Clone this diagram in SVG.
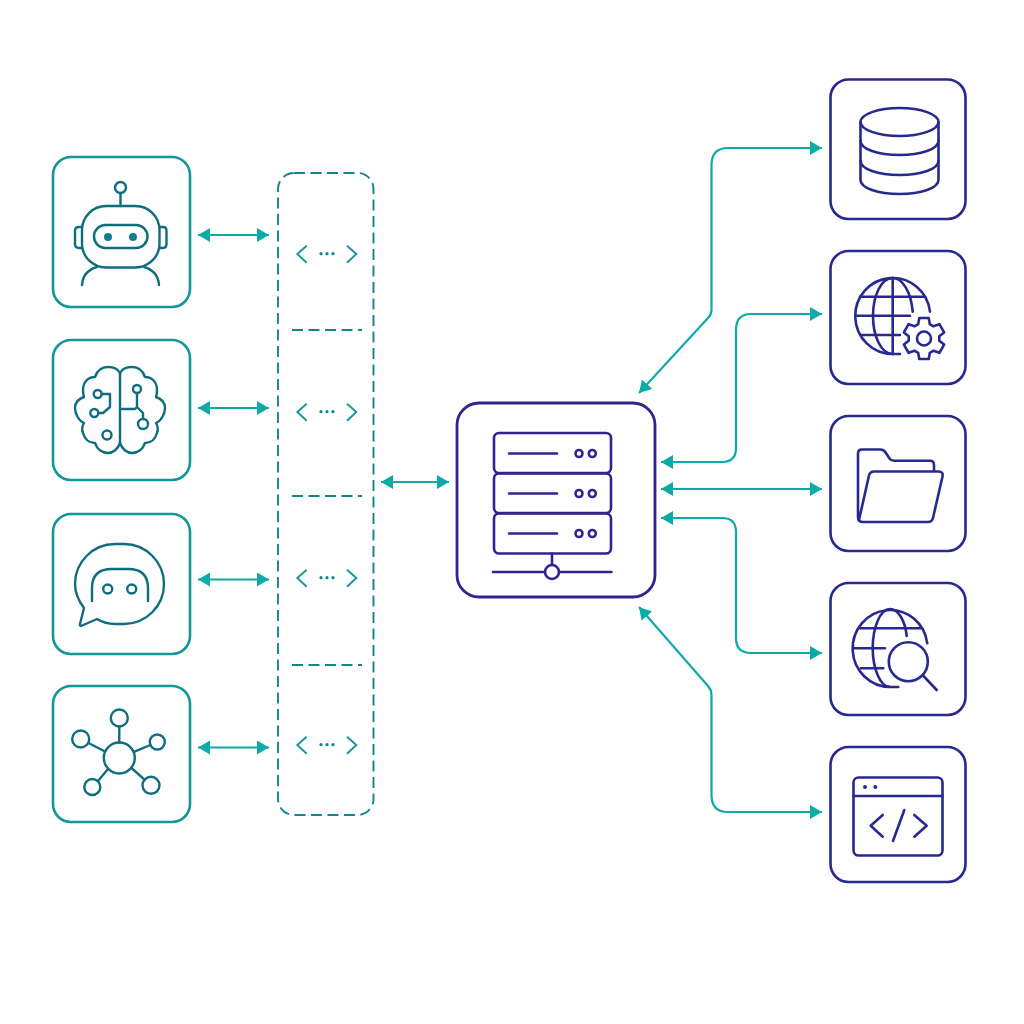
<svg xmlns="http://www.w3.org/2000/svg" width="1024" height="1024" viewBox="0 0 1024 1024">
<defs>
<marker id="arrow" viewBox="0 0 12 14" refX="12" refY="7" markerWidth="12" markerHeight="14" markerUnits="userSpaceOnUse" orient="auto-start-reverse"><path d="M0,0 L12,7 L0,14 Z" fill="#0eaaa6"/></marker>
</defs>
<style>
.tbox{fill:#fefefe;stroke:#12979b;stroke-width:2.6}
.nbox{fill:#fefefe;stroke:#28298f;stroke-width:2.6}
.ti{fill:none;stroke:#0f6e7e;stroke-width:2.4;stroke-linecap:round;stroke-linejoin:round}
.ni{fill:none;stroke:#28298f;stroke-width:2.6;stroke-linecap:round;stroke-linejoin:round}
.si{fill:none;stroke:#33238f;stroke-width:2.6;stroke-linecap:round;stroke-linejoin:round}
.conn{fill:none;stroke:#0eaaa6;stroke-width:2.2;marker-start:url(#arrow);marker-end:url(#arrow)}
.dash{fill:none;stroke:#12858c;stroke-width:1.9;stroke-dasharray:11 5.5}
.chev{fill:none;stroke:#12979b;stroke-width:1.9}
.dot{fill:#12858c}
</style>
<rect width="1024" height="1024" fill="#fefefe"/>

<g id="connectors">
<path class="conn" d="M198,235 H269"/>
<path class="conn" d="M198,408 H269"/>
<path class="conn" d="M198,579.500 H269"/>
<path class="conn" d="M198,747.500 H269"/>
<path class="conn" d="M381,482 H449"/>
<path class="conn" d="M639,393 L708,318 Q711.500,314.500 711.500,310 V165 Q711.500,148 728,148 H822"/>
<path class="conn" d="M661,462 H722 Q736,462 736,448 V330 Q736,314 751,314 H822"/>
<path class="conn" d="M661,489 H822"/>
<path class="conn" d="M661,518 H722 Q736,518 736,532 V638 Q736,653 751,653 H822"/>
<path class="conn" d="M639,607 L708,686 Q711.500,690 711.500,695 V795 Q711.500,812 728,812 H822"/>
</g>

<g id="gateway">
<rect x="278" y="173" width="95.500" height="642" rx="16" class="dash"/>
<path class="dash" d="M292,330 H362 M292,496 H362 M292,665 H362"/>
<g id="slot-1"><path class="chev" d="M306.700,245.700 L297.300,254 L306.700,262.700 M347,245.700 L356.300,254 L347,262.700"/><circle class="dot" cx="321" cy="253.700" r="1.600"/><circle class="dot" cx="327" cy="253.700" r="1.600"/><circle class="dot" cx="333" cy="253.700" r="1.600"/></g>
<g id="slot-2"><path class="chev" d="M306.700,403.700 L297.300,412 L306.700,420.700 M347,403.700 L356.300,412 L347,420.700"/><circle class="dot" cx="321" cy="411.700" r="1.600"/><circle class="dot" cx="327" cy="411.700" r="1.600"/><circle class="dot" cx="333" cy="411.700" r="1.600"/></g>
<g id="slot-3"><path class="chev" d="M306.700,569.700 L297.300,578 L306.700,586.700 M347,569.700 L356.300,578 L347,586.700"/><circle class="dot" cx="321" cy="577.700" r="1.600"/><circle class="dot" cx="327" cy="577.700" r="1.600"/><circle class="dot" cx="333" cy="577.700" r="1.600"/></g>
<g id="slot-4"><path class="chev" d="M306.700,736.700 L297.300,745 L306.700,753.700 M347,736.700 L356.300,745 L347,753.700"/><circle class="dot" cx="321" cy="744.700" r="1.600"/><circle class="dot" cx="327" cy="744.700" r="1.600"/><circle class="dot" cx="333" cy="744.700" r="1.600"/></g>
</g>

<g id="robot">
<rect class="tbox" x="53" y="157" width="137" height="150" rx="18"/>
<circle class="ti" cx="120.500" cy="187.500" r="5.500"/>
<path class="ti" d="M120.500,193 V206"/>
<rect class="ti" x="82" y="206" width="77.500" height="61.500" rx="24"/>
<rect class="ti" x="94" y="225" width="53.500" height="23" rx="11.500"/>
<circle cx="108" cy="237" r="4" fill="#0f7f8c"/><circle cx="133" cy="237" r="4" fill="#0f7f8c"/>
<path class="ti" d="M82,227 H79 Q75,227 75,231 V244 Q75,248 79,248 H82 M159.500,227 H163 Q166.500,227 166.500,231 V244 Q166.500,248 163,248 H159.500"/>
<path class="ti" d="M82,285 Q83,271 97,267 M159,285 Q158,271 144,267"/>
</g>

<g id="brain">
<rect class="tbox" x="53" y="340" width="137" height="140" rx="18"/>
<path class="ti" d="M120,373 V443"/>
<path class="ti" d="M120,373 C118,369 113,367 108,367 C101,367 97,371 95,377 C88,377 83,382 83,390 Q83,394 84,397 C78,399 75,403 75,408 C75,414 79,421 84,423 Q81,428 83,433 C85,440 90,443 95,443 C97,449 102,453 108,453 C113,453 118,449 120,443"/>
<path class="ti" d="M120,373 C122,369 127,367 132,367 C139,367 143,371 145,377 C152,377 157,382 157,390 Q157,394 156,397 C162,399 165,403 165,408 C165,414 161,421 156,423 Q159,428 157,433 C155,440 150,443 145,443 C143,449 138,453 132,453 C127,453 122,449 120,443"/>
<circle class="ti" cx="97.700" cy="394" r="4"/><path class="ti" d="M101.700,394 H110 V407 L103,413 H98.300"/><circle class="ti" cx="94.300" cy="413" r="4"/>
<circle class="ti" cx="107" cy="435" r="4.500"/>
<path class="ti" d="M120,409 H135 L137,407 V393 M137,407 L143,413 V419"/>
<circle class="ti" cx="137" cy="389" r="4"/><circle class="ti" cx="143" cy="424" r="5"/>
</g>

<g id="chat">
<rect class="tbox" x="53" y="514" width="137" height="140" rx="18"/>
<path class="ti" d="M84,608 C78,600 75,592 75,584 C75,562 93,544 115,544 H124 C146,544 164,562 164,584 C164,606 146,624 124,624 H115 C108,624 102,622 97,619 L81,626 Q79.500,626 80,624 Z"/>
<path class="ti" d="M92,601 V588 Q92,569 112,569 H128 Q148,569 148,588 V601"/>
<circle class="ti" cx="107.700" cy="589" r="4.500"/><circle class="ti" cx="131.700" cy="589" r="4.500"/>
</g>

<g id="network">
<rect class="tbox" x="53" y="686" width="137" height="136" rx="18"/>
<circle class="ti" cx="119.300" cy="758" r="15.500"/>
<circle class="ti" cx="119.300" cy="718" r="8.500"/>
<circle class="ti" cx="80.700" cy="739" r="8.500"/>
<circle class="ti" cx="157.300" cy="742" r="7.500"/>
<circle class="ti" cx="92.300" cy="787" r="8"/>
<circle class="ti" cx="151" cy="785.300" r="8.500"/>
<path class="ti" d="M119.300,726.500 V742.500 M88.500,743 L105,751.500 M150.300,745 L134,751.800 M98,781 L108,769 M144.500,779.700 L131.500,768"/>
</g>

<g id="server">
<rect x="457" y="403" width="198" height="194" rx="22" fill="#fefefe" stroke="#33238f" stroke-width="2.800"/>
<rect class="si" x="494" y="433" width="117" height="40" rx="5"/>
<rect class="si" x="494" y="473.500" width="117" height="39.500" rx="5"/>
<rect class="si" x="494" y="513.500" width="117" height="40" rx="5"/>
<path class="si" d="M509,453.500 H557 M509,493.500 H557 M509,533.500 H557"/>
<circle class="si" cx="579" cy="453.500" r="3.500"/><circle class="si" cx="592.300" cy="453.500" r="3.500"/>
<circle class="si" cx="579" cy="493.500" r="3.500"/><circle class="si" cx="592.300" cy="493.500" r="3.500"/>
<circle class="si" cx="579" cy="533.500" r="3.500"/><circle class="si" cx="592.300" cy="533.500" r="3.500"/>
<path class="si" d="M552,553.500 V565 M493,572 H545 M559,572 H611.500"/>
<circle class="si" cx="552" cy="572" r="7"/>
</g>

<g id="database">
<rect class="nbox" x="830.500" y="79.500" width="135" height="139.500" rx="18"/>
<ellipse class="ni" cx="899.500" cy="122" rx="39" ry="14"/>
<path class="ni" d="M860.500,122 V180 C860.500,188 878,194 899.500,194 C921,194 938.500,188 938.500,180 V122"/>
<path class="ni" d="M860.500,141 C860.500,149 878,155 899.500,155 C921,155 938.500,149 938.500,141"/>
<path class="ni" d="M860.500,161 C860.500,169 878,175 899.500,175 C921,175 938.500,169 938.500,161"/>
</g>

<g id="web-settings">
<rect class="nbox" x="830.500" y="251" width="135" height="133" rx="18"/>
<path class="ni" d="M930,311.700 A37.500,38 0 1 0 892.700,354 H900"/>
<path class="ni" d="M912.700,311.700 C911,291 902,278 892.700,278 C881,278 873,296 873,316 C873,336 881,354 892.700,354"/>
<path class="ni" d="M892.700,278 V354 M860,296.700 H925 M855.200,315.700 H910 M861.700,335 H900"/>
<path class="ni" d="M918.200,324.100 L919.300,318 H928.700 L929.800,324.100 L933.500,326.300 L939.400,324.200 L944.100,332.400 L939.300,336.300 V340.700 L944.100,344.600 L939.400,352.800 L933.500,350.700 L929.800,352.900 L928.700,359 H919.300 L918.200,352.900 L914.500,350.700 L908.600,352.800 L903.900,344.600 L908.700,340.700 V336.300 L903.900,332.400 L908.600,324.200 L914.500,326.300 Z"/>
<circle class="ni" cx="924" cy="338.500" r="7"/>
</g>

<g id="files">
<rect class="nbox" x="830.500" y="416" width="135" height="135" rx="18"/>
<path class="ni" d="M934,471 V465 Q934,460.700 930,460.700 H894 Q890.500,460.700 888.500,457 L886,453 Q884,449.500 880.500,449.500 H862 Q858,449.500 858,453.500 V517 Q858,522 863,522 H928 Q932,522 933,518 L942.500,476.500 Q943.500,471.500 938.500,471.500 H874 Q870,471.500 869,475.500 L859,520"/>
</g>

<g id="web-search">
<rect class="nbox" x="830.500" y="583" width="135" height="132" rx="18"/>
<path class="ni" d="M927.300,643.300 A37.500,38.500 0 1 0 890.500,687 H898.300"/>
<path class="ni" d="M906.700,636 C905,620 898,609 890,609 C880,609 872.700,628 872.700,648 C872.700,668 880,687 890,687"/>
<path class="ni" d="M860,628.300 H921.700 M853,648.300 H885 M860.700,668.300 H883.300"/>
<circle class="ni" cx="908.300" cy="661.700" r="19.500"/>
<path class="ni" d="M923,675.500 L936.700,690"/>
</g>

<g id="code">
<rect class="nbox" x="830.500" y="747" width="135" height="135" rx="18"/>
<rect class="ni" x="853.500" y="777.500" width="89" height="78" rx="5"/>
<path class="ni" d="M853.500,796 H942.500"/>
<circle cx="865" cy="787" r="2" fill="#28298f"/><circle cx="875.300" cy="787" r="2" fill="#28298f"/>
<path class="ni" d="M882.700,815 L870.700,825.700 L882.700,836.700 M914.300,815 L926.700,825.700 L914.300,836.700 M904.300,810 L893,841"/>
</g>
</svg>
